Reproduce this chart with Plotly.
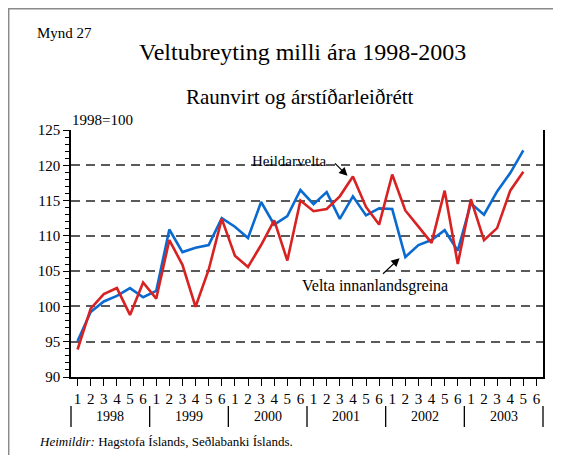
import plotly.graph_objects as go

years = ["1998", "1999", "2000", "2001", "2002", "2003"]
periods = ["1", "2", "3", "4", "5", "6"]

velta_innanlandsgreina = [95.1, 99.2, 100.7, 101.5, 102.6, 101.3,
                          102.2, 110.9, 107.7, 108.3, 108.7, 112.5,
                          111.3, 109.7, 114.8, 111.6, 112.8, 116.5,
                          114.5, 116.2, 112.4, 115.6, 112.9, 113.9,
                          113.8, 107.0, 108.7, 109.4, 110.8, 107.9,
                          114.6, 113.0, 116.3, 118.9, 122.1]
heildarvelta = [93.9, 99.7, 101.75, 102.6, 98.8, 103.4,
                101.1, 109.4, 105.9, 99.95, 105.2, 112.4,
                107.2, 105.6, 108.7, 112.2, 106.5, 115.0,
                113.5, 113.8, 115.6, 118.4, 114.1, 111.6,
                118.7, 113.6, 111.3, 109.0, 116.4, 106.0,
                115.2, 109.4, 111.1, 116.4, 119.1]

OFF = 8  # page body margin
W, H = 561 - OFF, 455 - OFF
L, R, T, B = 63, 18, 122, 78
pw, ph = W - L - R, H - T - B


def px(x):  # page pixel -> paper
    return (x - OFF - L) / pw


def py(y):
    return (H - B - (y - OFF)) / ph


n_ticks = len(years) * len(periods)
tick_vals = list(range(n_ticks))
tick_text = [p for _ in years for p in periods]
xmin, xmax = -0.5, n_ticks - 0.5


def xp(i):
    return (i - xmin) / (xmax - xmin)


FONT = "Liberation Serif"

fig = go.Figure()
fig.add_trace(go.Scatter(x=list(range(len(velta_innanlandsgreina))), y=velta_innanlandsgreina,
                         mode="lines", line=dict(color="#0A6AD0", width=2.6),
                         name="Velta innanlandsgreina", showlegend=False))
fig.add_trace(go.Scatter(x=list(range(len(heildarvelta))), y=heildarvelta,
                         mode="lines", line=dict(color="#D82222", width=2.6),
                         name="Heildarvelta", showlegend=False))

shapes = []
# outer frame (left & top visible)
shapes.append(dict(type="rect", xref="paper", yref="paper",
                   x0=px(8.7), x1=px(640), y0=py(8.7), y1=py(520),
                   line=dict(color="#8a8a8a", width=1.5), layer="below"))
# white boxes hiding gridlines behind labels
shapes.append(dict(type="rect", xref="paper", yref="paper",
                   x0=px(232), x1=px(355), y0=py(171), y1=py(160),
                   fillcolor="white", line=dict(width=0), layer="between"))
shapes.append(dict(type="rect", xref="paper", yref="paper",
                   x0=px(292), x1=px(462), y0=py(276), y1=py(267),
                   fillcolor="white", line=dict(width=0), layer="between"))
# year separators
for k in range(len(years) + 1):
    xs = xp(xmin + k * len(periods))
    shapes.append(dict(type="line", xref="paper", yref="paper",
                       x0=xs, x1=xs, y0=py(406), y1=py(427),
                       line=dict(color="black", width=1.3)))

annotations = []
for k, yr in enumerate(years):
    annotations.append(dict(x=k * len(periods) + (len(periods) - 1) / 2, xref="x",
                            y=py(416), yref="paper", text=yr, showarrow=False,
                            xanchor="center", yanchor="middle",
                            font=dict(size=14, family=FONT, color="black")))

annotations += [
    dict(x=px(35), y=py(33), xref="paper", yref="paper", text="Mynd 27",
         xanchor="left", yanchor="middle", showarrow=False,
         font=dict(size=15, family=FONT, color="black")),
    dict(x=px(302), y=py(52), xref="paper", yref="paper", text="Veltubreyting milli ára 1998-2003",
         xanchor="center", yanchor="middle", showarrow=False,
         font=dict(size=24, family=FONT, color="black")),
    dict(x=px(300), y=py(97), xref="paper", yref="paper", text="Raunvirt og árstíðarleiðrétt",
         xanchor="center", yanchor="middle", showarrow=False,
         font=dict(size=21, family=FONT, color="black")),
    dict(x=px(70), y=py(120), xref="paper", yref="paper", text="1998=100",
         xanchor="left", yanchor="middle", showarrow=False,
         font=dict(size=15, family=FONT, color="black")),
    dict(x=px(37), y=py(441), xref="paper", yref="paper",
         text="<i>Heimildir:</i> Hagstofa Íslands, Seðlabanki Íslands.",
         xanchor="left", yanchor="middle", showarrow=False,
         font=dict(size=13, family=FONT, color="black")),
    dict(x=16.14, y=120.55, xref="x", yref="y", text="Heildarvelta", showarrow=False,
         xanchor="center", yanchor="middle",
         font=dict(size=15, family=FONT, color="black")),
    dict(x=22.7, y=102.9, xref="x", yref="y", text="Velta innanlandsgreina", showarrow=False,
         xanchor="center", yanchor="middle",
         font=dict(size=16, family=FONT, color="black")),
    dict(x=20.59, y=118.5, xref="x", yref="y", text="", showarrow=True,
         ax=-14, ay=-14, arrowhead=2, arrowsize=1.4, arrowwidth=1.2,
         arrowcolor="black", standoff=0),
    dict(x=24.56, y=106.84, xref="x", yref="y", text="", showarrow=True,
         ax=-18, ay=17, arrowhead=2, arrowsize=1.4, arrowwidth=1.2,
         arrowcolor="black", standoff=0),
]

fig.update_layout(
    width=W, height=H,
    margin=dict(l=L, r=R, t=T, b=B, pad=0),
    paper_bgcolor="white", plot_bgcolor="white",
    font=dict(family=FONT, size=14, color="black"),
    shapes=shapes, annotations=annotations,
    showlegend=False,
)
fig.update_xaxes(range=[xmin, xmax], tickmode="array", tickvals=tick_vals, ticktext=tick_text,
                 showgrid=False, zeroline=False, showline=True, linecolor="black", linewidth=1.5,
                 ticks="outside", ticklen=7, tickcolor="black", tickwidth=1,
                 tickfont=dict(size=15, family=FONT, color="black"))
fig.update_yaxes(range=[90, 125], dtick=5, tick0=90,
                 showgrid=True, gridcolor="#5a5a5a", gridwidth=1.5, griddash="9px,6px",
                 zeroline=False, showline=True, linecolor="black", linewidth=1.5, mirror=True,
                 ticks="outside", ticklen=6, tickcolor="black", tickwidth=1,
                 minor=dict(dtick=1, ticks="outside", ticklen=4, tickcolor="black", showgrid=False),
                 tickfont=dict(size=15, family=FONT, color="black"))

fig.write_html("out.html")
